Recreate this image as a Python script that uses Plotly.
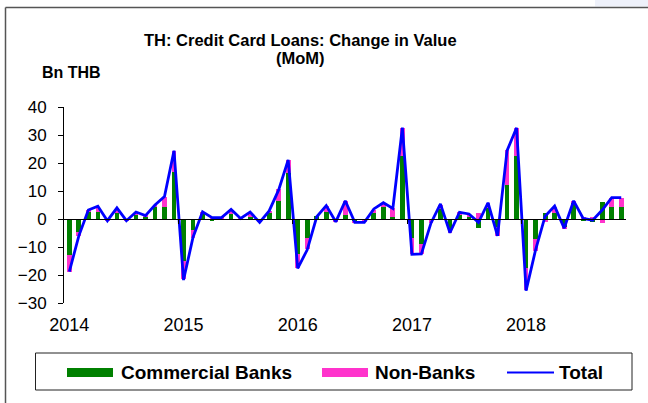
import plotly.graph_objects as go

# Monthly change in credit card loans outstanding, Bn THB
months = [f"{y}-{m:02d}" for y in range(2014, 2019) for m in range(1, 13)][:59]

commercial_banks = [
    -12.8, -4.5, 2.6, 2.4, -0.3, 2.3, -0.3, 1.4, 0.8, 4.2, 4.2, 16.7,
    -14.9, -3.9, 2.0, -0.5, 0.3, 1.8, 0.1, 0.8, -0.7, 2.0, 6.5, 16.3,
    -12.5, -6.7, 1.0, 2.6, -0.5, 1.4, -1.0, -0.6, 2.0, 4.2, 0.8, 22.6,
    -6.9, -8.9, -0.4, 3.5, -3.7, 1.4, 0.8, -3.3, 3.8, -2.7, 12.1, 22.6,
    -17.6, -7.1, 2.0, 2.0, -3.0, 5.6, -0.4, -1.2, 6.0, 4.4, 4.4,
]
non_banks = [
    -6.0, -1.5, 0.6, 2.0, -0.3, 1.5, -0.3, 1.1, 0.6, 0.8, 3.8, 7.7,
    -6.6, -3.0, 0.4, 0.8, 0.2, 1.2, 0.2, 1.0, -0.5, 0.9, 4.1, 4.8,
    -5.1, -4.1, -0.2, 2.0, -0.5, 5.1, -0.2, -0.6, 1.2, 1.4, 3.0, 10.0,
    -5.6, -3.6, -1.1, 1.5, -1.2, 1.0, 0.6, 2.0, 1.8, -3.2, 12.5, 10.0,
    -7.8, -4.3, -1.0, 2.4, -0.3, 0.9, 0.6, 0.8, -1.5, 3.0, 3.0,
]
total = [
    -18.8, -6.0, 3.2, 4.6, -0.6, 4.0, -0.6, 2.5, 1.2, 5.0, 8.0, 24.4,
    -21.8, -6.5, 2.6, 0.5, 0.5, 3.4, 0.2, 2.5, -1.2, 2.9, 10.4, 21.1,
    -17.6, -11.0, 0.8, 4.8, -1.0, 6.5, -1.2, -1.2, 3.6, 5.8, 3.8, 32.6,
    -12.6, -12.5, -1.5, 5.4, -4.9, 2.4, 1.8, -1.2, 5.8, -6.0, 24.4, 32.6,
    -25.6, -11.0, 1.0, 4.6, -3.3, 6.5, 0.2, -0.4, 3.2, 7.6, 7.6,
]
year_labels = ["2014", "2015", "2016", "2017", "2018"]
y_ticks = [-30, -20, -10, 0, 10, 20, 30, 40]

GREEN = "#008000"
PINK = "#FF33CC"
BLUE = "#0000FF"
FONT = "Arial, Liberation Sans, sans-serif"

x = list(range(len(months)))
x_range = [-0.56, len(months) - 0.5]
y_range = [-30, 40]

# plot-area box in pixels, used to place decorations in paper units
W, H = 648, 403
L, R, T, B = 64, 626, 107, 303


def px(v):
    return (v - L) / (R - L)


def py(v):
    return (B - v) / (B - T)


fig = go.Figure()
fig.add_trace(go.Bar(x=x, y=commercial_banks, name="Commercial Banks",
                     marker=dict(color=GREEN, line=dict(width=0)), width=0.5,
                     customdata=months, hovertemplate="%{customdata}: %{y}<extra>Commercial Banks</extra>"))
fig.add_trace(go.Bar(x=x, y=non_banks, name="Non-Banks",
                     marker=dict(color=PINK, line=dict(width=0)), width=0.5,
                     customdata=months, hovertemplate="%{customdata}: %{y}<extra>Non-Banks</extra>"))
fig.add_trace(go.Scatter(x=x, y=total, name="Total", mode="lines", xaxis="x2",
                         line=dict(color=BLUE, width=2.8),
                         customdata=months, hovertemplate="%{customdata}: %{y}<extra>Total</extra>"))

shapes = [
    # outer chart frame (left and top edges)
    dict(type="line", xref="paper", yref="paper", x0=px(5.5), x1=px(660), y0=py(7.5), y1=py(7.5),
         line=dict(color="#555555", width=1.5)),
    dict(type="line", xref="paper", yref="paper", x0=px(5.5), x1=px(5.5), y0=py(7.5), y1=py(420),
         line=dict(color="#555555", width=1.5)),
    dict(type="rect", xref="paper", yref="paper", x0=px(595), x1=px(660), y0=py(0), y1=py(6.5),
         fillcolor="#EEF1FA", line=dict(width=0), layer="below"),
    # legend box and swatches
    dict(type="rect", xref="paper", yref="paper", x0=px(35.5), x1=px(632), y0=py(353), y1=py(390),
         line=dict(color="#222222", width=1)),
    dict(type="rect", xref="paper", yref="paper", x0=px(67), x1=px(113), y0=py(368), y1=py(377),
         fillcolor=GREEN, line=dict(width=0)),
    dict(type="rect", xref="paper", yref="paper", x0=px(322), x1=px(368), y0=py(368), y1=py(377),
         fillcolor=PINK, line=dict(width=0)),
    dict(type="line", xref="paper", yref="paper", x0=px(507), x1=px(554), y0=py(372.5), y1=py(372.5),
         line=dict(color=BLUE, width=2)),
]

annotations = [
    dict(text="<b>TH: Credit Card Loans: Change in Value</b>", x=px(300), y=py(40),
         font=dict(size=16.5)),
    dict(text="<b>(MoM)</b>", x=px(300), y=py(58), font=dict(size=16.5)),
    dict(text="<b>Bn THB</b>", x=px(40), y=py(73), xanchor="left", font=dict(size=16)),
    dict(text="<b>Commercial Banks</b>", x=px(119), y=py(372.5), xanchor="left", font=dict(size=19)),
    dict(text="<b>Non-Banks</b>", x=px(373), y=py(372.5), xanchor="left", font=dict(size=19)),
    dict(text="<b>Total</b>", x=px(557), y=py(372.5), xanchor="left", font=dict(size=19)),
]
for a in annotations:
    a.update(xref="paper", yref="paper", showarrow=False, yanchor="middle",
             xanchor=a.get("xanchor", "center"))
    a["font"].update(family=FONT, color="#000000")

fig.update_layout(
    width=W, height=H,
    margin=dict(l=L, r=W - R, t=T, b=H - B, pad=0),
    paper_bgcolor="white", plot_bgcolor="white",
    barmode="relative", bargap=0,
    showlegend=False,
    font=dict(family=FONT, size=16, color="#000000"),
    shapes=shapes, annotations=annotations,
    xaxis=dict(range=x_range, tickmode="array", tickvals=[0, 12, 24, 36, 48], ticktext=year_labels,
               showgrid=False, zeroline=False, showline=False, ticks="",
               ticklabelstandoff=9, tickfont=dict(size=18)),
    xaxis2=dict(range=x_range, overlaying="x", anchor="free",
                position=(0 - y_range[0]) / (y_range[1] - y_range[0]),
                showline=True, linecolor="#000000", linewidth=1,
                tickmode="array", tickvals=[11.5, 23.5, 35.5, 47.5], ticks="outside",
                ticklen=4, tickcolor="#000000", showticklabels=False, showgrid=False, zeroline=False),
    yaxis=dict(range=y_range, tickmode="array", tickvals=y_ticks, showgrid=False, zeroline=False,
               showline=True, linecolor="#000000", linewidth=1, ticks="outside", ticklen=5,
               tickcolor="#000000", ticklabelstandoff=8, tickfont=dict(size=17)),
)

fig.write_html("out.html")
